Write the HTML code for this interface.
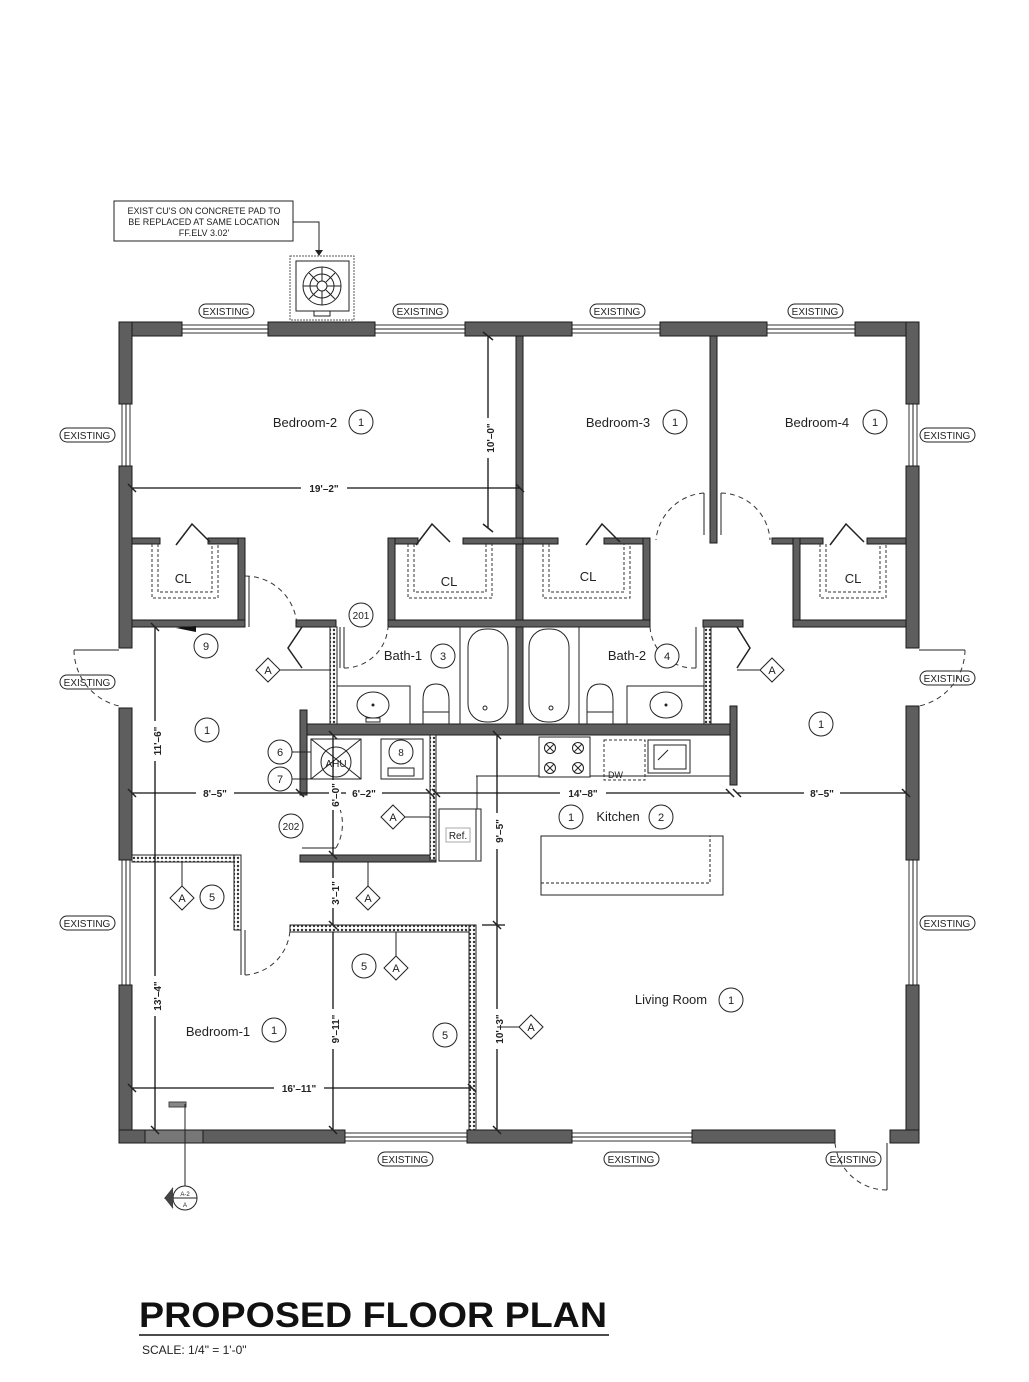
<!DOCTYPE html>
<html><head><meta charset="utf-8"><style>
html,body{margin:0;padding:0;background:#fff}
svg{display:block}
text{font-family:"Liberation Sans",Arial,sans-serif;fill:#222}
.w{fill:#5e5e5e;stroke:#1a1a1a;stroke-width:1}
.h{fill:#fff;stroke:#222;stroke-width:1}
.ln{stroke:#222;stroke-width:1;fill:none}
.dl{stroke:#111;stroke-width:1.3;fill:none}
.ds{stroke:#333;stroke-width:1;fill:none;stroke-dasharray:5,4}
.win{fill:#fff;stroke:#333;stroke-width:1}
.lab{font-size:13px}
.tag{font-size:10px}
.dim{font-size:10px;font-weight:bold}
.c{fill:#fff;stroke:#222;stroke-width:1}
</style></head><body>
<svg width="1029" height="1382" viewBox="0 0 1029 1382" xmlns="http://www.w3.org/2000/svg">
<defs>
<pattern id="hp" width="4" height="4" patternUnits="userSpaceOnUse"><rect width="4" height="4" fill="#fff"/><circle cx="2" cy="2" r="1.2" fill="#333"/></pattern>
</defs>

<rect x="114" y="201" width="179" height="40" class="h"/>
<text x="204" y="214" text-anchor="middle" style="font-size:9px">EXIST CU'S ON CONCRETE PAD  TO</text>
<text x="204" y="225" text-anchor="middle" style="font-size:9px">BE REPLACED AT SAME LOCATION</text>
<text x="204" y="236" text-anchor="middle" style="font-size:9px">FF.ELV 3.02'</text>
<polyline points="293,222 319,222 319,254" class="ln"/>
<polygon points="315,250 319,256 323,250" fill="#222"/>
<rect x="290" y="256" width="64" height="64" fill="none" stroke="#555" stroke-dasharray="2,1"/>
<rect x="296" y="261" width="53" height="50" class="h"/>
<circle cx="322" cy="286" r="19" class="ln"/><circle cx="322" cy="286" r="12" class="ln"/><circle cx="322" cy="286" r="5" class="ln"/>
<path d="M322 267V281M322 291V305M303 286H317M327 286H341M309 273L318 282M326 290L335 299M335 273L326 282M318 290L309 299" class="ln"/>
<rect x="314" y="311" width="16" height="5" class="h"/>

<g class="tag">
<rect x="199" y="304" width="55" height="14" rx="7" class="h"/><text x="226" y="315" text-anchor="middle">EXISTING</text>
<rect x="393" y="304" width="55" height="14" rx="7" class="h"/><text x="420" y="315" text-anchor="middle">EXISTING</text>
<rect x="590" y="304" width="55" height="14" rx="7" class="h"/><text x="617" y="315" text-anchor="middle">EXISTING</text>
<rect x="788" y="304" width="55" height="14" rx="7" class="h"/><text x="815" y="315" text-anchor="middle">EXISTING</text>
<rect x="60" y="428" width="55" height="14" rx="7" class="h"/><text x="87" y="439" text-anchor="middle">EXISTING</text>
<rect x="60" y="675" width="55" height="14" rx="7" class="h"/><text x="87" y="686" text-anchor="middle">EXISTING</text>
<rect x="60" y="916" width="55" height="14" rx="7" class="h"/><text x="87" y="927" text-anchor="middle">EXISTING</text>
<rect x="920" y="428" width="55" height="14" rx="7" class="h"/><text x="947" y="439" text-anchor="middle">EXISTING</text>
<rect x="920" y="671" width="55" height="14" rx="7" class="h"/><text x="947" y="682" text-anchor="middle">EXISTING</text>
<rect x="920" y="916" width="55" height="14" rx="7" class="h"/><text x="947" y="927" text-anchor="middle">EXISTING</text>
<rect x="378" y="1152" width="55" height="14" rx="7" class="h"/><text x="405" y="1163" text-anchor="middle">EXISTING</text>
<rect x="604" y="1152" width="55" height="14" rx="7" class="h"/><text x="631" y="1163" text-anchor="middle">EXISTING</text>
<rect x="826" y="1152" width="55" height="14" rx="7" class="h"/><text x="853" y="1163" text-anchor="middle">EXISTING</text>
</g>

<g class="win">
<rect x="182" y="325" width="86" height="8"/><rect x="375" y="325" width="90" height="8"/><rect x="572" y="325" width="88" height="8"/><rect x="767" y="325" width="88" height="8"/>
<rect x="122" y="404" width="8" height="62"/><rect x="122" y="860" width="8" height="125"/>
<rect x="909" y="404" width="8" height="62"/><rect x="909" y="860" width="8" height="125"/>
<rect x="345" y="1133" width="122" height="8"/><rect x="572" y="1133" width="120" height="8"/>
</g>
<path d="M182 329H268M375 329H465M572 329H660M767 329H855M126 404V466M126 860V985M913 404V466M913 860V985M345 1137H467M572 1137H692" class="ln"/>

<g class="w">
<rect x="119" y="322" width="63" height="14"/><rect x="268" y="322" width="107" height="14"/><rect x="465" y="322" width="107" height="14"/><rect x="660" y="322" width="107" height="14"/><rect x="855" y="322" width="64" height="14"/>
<rect x="119" y="322" width="13" height="82"/><rect x="119" y="466" width="13" height="182"/><rect x="119" y="708" width="13" height="152"/><rect x="119" y="985" width="13" height="158"/>
<rect x="906" y="322" width="13" height="82"/><rect x="906" y="466" width="13" height="182"/><rect x="906" y="706" width="13" height="154"/><rect x="906" y="985" width="13" height="158"/>
<rect x="119" y="1130" width="226" height="13"/><rect x="467" y="1130" width="105" height="13"/><rect x="692" y="1130" width="143" height="13"/><rect x="890" y="1130" width="29" height="13"/>
<rect x="145" y="1130" width="58" height="13" style="fill:#777"/>
</g>

<path d="M119 650H74" class="ln"/><path d="M74 650A58 58 0 0 0 119 706" class="ds"/>
<path d="M919 650H965" class="ln"/><path d="M965 650A58 58 0 0 1 919 706" class="ds"/>
<path d="M887 1143V1190" class="ln"/><path d="M887 1190A52 52 0 0 1 835 1143" class="ds"/>

<g class="w">
<rect x="516" y="336" width="7" height="291"/>
<rect x="710" y="336" width="7" height="207"/>
<rect x="132" y="538" width="28" height="6"/><rect x="208" y="538" width="37" height="6"/><rect x="238" y="538" width="7" height="89"/><rect x="132" y="620" width="113" height="7"/>
<rect x="388" y="538" width="30" height="6"/><rect x="463" y="538" width="60" height="6"/><rect x="388" y="538" width="7" height="89"/>
<rect x="523" y="538" width="35" height="6"/><rect x="604" y="538" width="46" height="6"/><rect x="643" y="538" width="7" height="89"/>
<rect x="388" y="620" width="262" height="7"/>
<rect x="772" y="538" width="51" height="6"/><rect x="867" y="538" width="39" height="6"/><rect x="793" y="538" width="7" height="89"/><rect x="793" y="620" width="113" height="7"/>
<rect x="516" y="627" width="7" height="97"/>
<rect x="300" y="724" width="437" height="11"/>
<rect x="300" y="710" width="7" height="85"/>
<rect x="730" y="706" width="7" height="79"/>
<rect x="300" y="855" width="136" height="7"/>
<rect x="296" y="620" width="40" height="7"/><rect x="703" y="620" width="40" height="7"/>
</g>
<g style="fill:url(#hp);stroke:#222">
<rect x="330" y="627" width="7" height="97"/><rect x="704" y="627" width="7" height="97"/>
<rect x="430" y="735" width="6" height="125"/>
<rect x="132" y="855" width="108" height="7"/><rect x="234" y="855" width="7" height="75"/>
<rect x="290" y="925" width="186" height="7"/><rect x="469" y="925" width="7" height="205"/>
</g>

<path d="M152 544V598H218V544M158 544V592H212V544" class="ds" style="stroke-dasharray:3,2"/>
<path d="M176 545L192 524L210 542" class="ln" style="stroke-width:1.5"/>
<path d="M408 544V598H492V544M414 544V592H486V544" class="ds" style="stroke-dasharray:3,2"/>
<path d="M416 545L432 524L450 542" class="ln" style="stroke-width:1.5"/>
<path d="M543 544V598H630V544M549 544V592H624V544" class="ds" style="stroke-dasharray:3,2"/>
<path d="M586 545L602 524L620 542" class="ln" style="stroke-width:1.5"/>
<path d="M820 544V598H886V544M826 544V592H880V544" class="ds" style="stroke-dasharray:3,2"/>
<path d="M830 545L846 524L864 542" class="ln" style="stroke-width:1.5"/>
<g class="lab"><text x="183" y="583" text-anchor="middle">CL</text><text x="449" y="586" text-anchor="middle">CL</text><text x="588" y="581" text-anchor="middle">CL</text><text x="853" y="583" text-anchor="middle">CL</text></g>

<path d="M245 576V627M249 576V627" class="ln"/><path d="M245 576A52 52 0 0 1 297 627" class="ds"/>
<path d="M340 627V668M344 627V668" class="ln"/><path d="M344 668A44 44 0 0 0 388 627" class="ds"/>
<path d="M696 627V668" class="ln"/><path d="M696 668A44 44 0 0 1 650 627" class="ds"/>
<path d="M704 493V535M721 493V535" class="ln"/><path d="M704 493A52 52 0 0 0 656 540" class="ds"/><path d="M721 493A50 50 0 0 1 770 540" class="ds"/>
<path d="M302 627L288 648L302 668" class="ln" style="stroke-width:1.5"/>
<path d="M737 627L750 648L737 668" class="ln" style="stroke-width:1.5"/>
<path d="M302 848H336" class="ln"/><path d="M336 800A48 48 0 0 1 336 848" class="ds"/>
<path d="M241 930V975M245 930V975" class="ln"/><path d="M245 975A48 48 0 0 0 290 930" class="ds"/>
<path d="M176 628L196 632V626Z" fill="#111"/>

<rect x="337" y="686" width="73" height="38" class="h"/><ellipse cx="373" cy="705" rx="16" ry="13" class="ln"/><circle cx="373" cy="705" r="1.5" fill="#222"/>
<path d="M366 718H380V722H366Z" class="h"/>
<path d="M423 724V700Q423 684 436 684Q449 684 449 700V724Z" class="h"/><rect x="423" y="712" width="26" height="12" class="h"/>
<rect x="460" y="627" width="56" height="97" class="h"/><rect x="468" y="629" width="40" height="93" rx="18" class="h"/><circle cx="485" cy="708" r="2" class="ln"/>
<rect x="523" y="627" width="56" height="97" class="h"/><rect x="529" y="629" width="40" height="93" rx="18" class="h"/><circle cx="551" cy="708" r="2" class="ln"/>
<path d="M587 724V700Q587 684 600 684Q613 684 613 700V724Z" class="h"/><rect x="587" y="712" width="26" height="12" class="h"/>
<rect x="627" y="686" width="77" height="38" class="h"/><ellipse cx="666" cy="705" rx="16" ry="13" class="ln"/><circle cx="666" cy="705" r="1.5" fill="#222"/>

<rect x="311" y="739" width="50" height="40" class="h"/><path d="M311 739L361 779M361 739L311 779" class="ln"/><circle cx="336" cy="762" r="15" class="ln"/>
<text x="336" y="767" text-anchor="middle" style="font-size:10px">AHU</text>
<rect x="381" y="739" width="42" height="40" class="h"/><circle cx="401" cy="752" r="12" class="ln"/><text x="401" y="756" text-anchor="middle" style="font-size:10px">8</text><rect x="388" y="768" width="26" height="8" class="ln"/>
<rect x="439" y="809" width="42" height="52" class="h"/><rect x="446" y="828" width="24" height="14" fill="none" stroke="#aaa"/><text x="458" y="839" text-anchor="middle" style="font-size:10px">Ref.</text>
<path d="M476 809V860M476 776H600M477 776V809" class="ln"/>
<rect x="539" y="737" width="51" height="40" class="h"/>
<g class="ln"><circle cx="550" cy="748" r="5.5"/><circle cx="578" cy="748" r="5.5"/><circle cx="550" cy="768" r="5.5"/><circle cx="578" cy="768" r="5.5"/></g>
<path d="M546 744L554 752M554 744L546 752M574 744L582 752M582 744L574 752M546 764L554 772M554 764L546 772M574 764L582 772M582 764L574 772" class="ln"/>
<rect x="604" y="740" width="41" height="40" fill="none" stroke="#333" stroke-dasharray="3,2"/>
<text x="608" y="778" style="font-size:9px">DW</text>
<rect x="648" y="740" width="42" height="33" class="h"/><rect x="654" y="745" width="32" height="24" class="ln"/><path d="M658 760L668 750" class="ln"/>
<path d="M600 776H730" class="ln"/>
<rect x="541" y="836" width="182" height="59" class="h"/><path d="M541 883H710V836" class="ln" style="stroke-dasharray:3,2"/>

<g class="dl">
<path d="M488 336V528"/><path d="M132 488H520"/>
<path d="M155 627V1130"/><path d="M132 793H300"/><path d="M300 793H430"/><path d="M436 793H730"/><path d="M737 793H906"/>
<path d="M333 735V855"/><path d="M333 862V925"/><path d="M333 932V1130"/>
<path d="M497 735V925"/><path d="M497 925V1130"/><path d="M482 925H505"/>
<path d="M132 1088H472"/>
</g>
<g class="ln" style="stroke-width:1.5">
<path d="M483 332L493 340M483 524L493 532M128 484L136 492M516 484L524 492M128 789L136 797M296 789L304 797M426 789L434 797M432 789L440 797M726 789L734 797M733 789L741 797M902 789L910 797M151 623L159 631M151 1126L159 1134M329 731L337 739M329 851L337 859M329 921L337 929M329 1126L337 1134M493 731L501 739M493 921L501 929M493 1126L501 1134M128 1084L136 1092M468 1084L476 1092"/>
</g>
<g class="dim">
<rect x="301" y="482" width="46" height="12" fill="#fff"/><text x="324" y="492" text-anchor="middle">19'–2"</text>
<rect x="196" y="787" width="38" height="12" fill="#fff"/><text x="215" y="797" text-anchor="middle">8'–5"</text>
<rect x="346" y="787" width="36" height="12" fill="#fff"/><text x="364" y="797" text-anchor="middle">6'–2"</text>
<rect x="560" y="787" width="46" height="12" fill="#fff"/><text x="583" y="797" text-anchor="middle">14'–8"</text>
<rect x="804" y="787" width="36" height="12" fill="#fff"/><text x="822" y="797" text-anchor="middle">8'–5"</text>
<rect x="274" y="1082" width="50" height="12" fill="#fff"/><text x="299" y="1092" text-anchor="middle">16'–11"</text>
<g transform="translate(492,438) rotate(-90)"><rect x="-20" y="-8" width="40" height="12" fill="#fff"/><text x="0" y="2" text-anchor="middle">10'–0"</text></g>
<g transform="translate(159,741) rotate(-90)"><rect x="-20" y="-8" width="40" height="12" fill="#fff"/><text x="0" y="2" text-anchor="middle">11'–6"</text></g>
<g transform="translate(159,996) rotate(-90)"><rect x="-20" y="-8" width="40" height="12" fill="#fff"/><text x="0" y="2" text-anchor="middle">13'–4"</text></g>
<g transform="translate(337,795) rotate(-90)"><rect x="-15" y="-8" width="30" height="12" fill="#fff"/><text x="0" y="2" text-anchor="middle">6'–0"</text></g>
<g transform="translate(337,893) rotate(-90)"><rect x="-15" y="-8" width="30" height="12" fill="#fff"/><text x="0" y="2" text-anchor="middle">3'–1"</text></g>
<g transform="translate(337,1029) rotate(-90)"><rect x="-20" y="-8" width="40" height="12" fill="#fff"/><text x="0" y="2" text-anchor="middle">9'–11"</text></g>
<g transform="translate(501,831) rotate(-90)"><rect x="-18" y="-8" width="36" height="12" fill="#fff"/><text x="0" y="2" text-anchor="middle">9'–5"</text></g>
<g transform="translate(501,1029) rotate(-90)"><rect x="-20" y="-8" width="40" height="12" fill="#fff"/><text x="0" y="2" text-anchor="middle">10'–3"</text></g>
</g>

<g class="lab">
<text x="305" y="427" text-anchor="middle">Bedroom-2</text>
<text x="618" y="427" text-anchor="middle">Bedroom-3</text>
<text x="817" y="427" text-anchor="middle">Bedroom-4</text>
<text x="403" y="660" text-anchor="middle">Bath-1</text>
<text x="627" y="660" text-anchor="middle">Bath-2</text>
<text x="618" y="821" text-anchor="middle">Kitchen</text>
<text x="671" y="1004" text-anchor="middle">Living Room</text>
<text x="218" y="1036" text-anchor="middle">Bedroom-1</text>
</g>
<g style="font-size:11px">
<circle cx="361" cy="422" r="12" class="c"/><text x="361" y="426" text-anchor="middle">1</text>
<circle cx="675" cy="422" r="12" class="c"/><text x="675" y="426" text-anchor="middle">1</text>
<circle cx="875" cy="422" r="12" class="c"/><text x="875" y="426" text-anchor="middle">1</text>
<circle cx="443" cy="656" r="12" class="c"/><text x="443" y="660" text-anchor="middle">3</text>
<circle cx="667" cy="656" r="12" class="c"/><text x="667" y="660" text-anchor="middle">4</text>
<circle cx="361" cy="615" r="12" class="c"/><text x="361" y="619" text-anchor="middle" style="font-size:10px">201</text>
<circle cx="206" cy="646" r="12" class="c"/><text x="206" y="650" text-anchor="middle">9</text>
<circle cx="207" cy="730" r="12" class="c"/><text x="207" y="734" text-anchor="middle">1</text>
<circle cx="821" cy="724" r="12" class="c"/><text x="821" y="728" text-anchor="middle">1</text>
<circle cx="280" cy="752" r="12" class="c"/><text x="280" y="756" text-anchor="middle">6</text>
<circle cx="280" cy="779" r="12" class="c"/><text x="280" y="783" text-anchor="middle">7</text>
<circle cx="291" cy="826" r="12" class="c"/><text x="291" y="830" text-anchor="middle" style="font-size:10px">202</text>
<circle cx="571" cy="817" r="12" class="c"/><text x="571" y="821" text-anchor="middle">1</text>
<circle cx="661" cy="817" r="12" class="c"/><text x="661" y="821" text-anchor="middle">2</text>
<circle cx="212" cy="897" r="12" class="c"/><text x="212" y="901" text-anchor="middle">5</text>
<circle cx="364" cy="966" r="12" class="c"/><text x="364" y="970" text-anchor="middle">5</text>
<circle cx="445" cy="1035" r="12" class="c"/><text x="445" y="1039" text-anchor="middle">5</text>
<circle cx="274" cy="1030" r="12" class="c"/><text x="274" y="1034" text-anchor="middle">1</text>
<circle cx="731" cy="1000" r="12" class="c"/><text x="731" y="1004" text-anchor="middle">1</text>
</g>
<path d="M292 752H311M292 779H311" class="ln"/>

<g style="font-size:11px">
<path d="M268 658L280 670L268 682L256 670Z" class="c"/><text x="268" y="674" text-anchor="middle">A</text><path d="M280 670H330" class="ln"/>
<path d="M772 658L784 670L772 682L760 670Z" class="c"/><text x="772" y="674" text-anchor="middle">A</text><path d="M737 670H760" class="ln"/>
<path d="M393 805L405 817L393 829L381 817Z" class="c"/><text x="393" y="821" text-anchor="middle">A</text><path d="M405 817H430" class="ln"/>
<path d="M182 886L194 898L182 910L170 898Z" class="c"/><text x="182" y="902" text-anchor="middle">A</text><path d="M182 862V886" class="ln"/>
<path d="M368 886L380 898L368 910L356 898Z" class="c"/><text x="368" y="902" text-anchor="middle">A</text><path d="M368 862V886" class="ln"/>
<path d="M396 956L408 968L396 980L384 968Z" class="c"/><text x="396" y="972" text-anchor="middle">A</text><path d="M396 932V956" class="ln"/>
<path d="M531 1015L543 1027L531 1039L519 1027Z" class="c"/><text x="531" y="1031" text-anchor="middle">A</text><path d="M497 1027H519" class="ln"/>
</g>

<rect x="169" y="1102" width="17" height="5" fill="#888" stroke="#444"/>
<path d="M185 1104V1186" class="ln"/>
<circle cx="185" cy="1198" r="12" class="c"/><path d="M173 1198H197M173 1198L165 1198L173 1188M165 1198L173 1208" class="ln"/>
<path d="M173 1187L165 1198L173 1209Z" fill="#444"/>
<text x="185" y="1196" text-anchor="middle" style="font-size:6px">A-2</text><text x="185" y="1207" text-anchor="middle" style="font-size:6px">A</text>

<text x="139" y="1327" textLength="468" lengthAdjust="spacingAndGlyphs" style="font-size:35px;font-weight:bold;fill:#111">PROPOSED FLOOR PLAN</text>
<path d="M139 1335H609" stroke="#111" stroke-width="1.5"/>
<text x="142" y="1354" style="font-size:12px">SCALE:  1/4" = 1'-0"</text>
</svg>
</body></html>
